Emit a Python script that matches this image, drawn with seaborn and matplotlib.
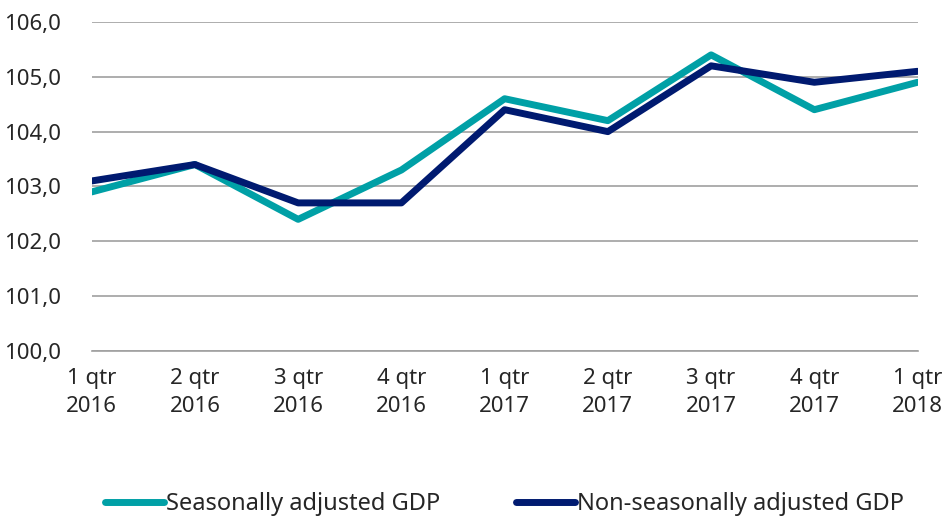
import pandas as pd
import numpy as np
import seaborn as sns
import matplotlib.pyplot as plt
from matplotlib.ticker import FuncFormatter

quarters = ['1 qtr\n2016', '2 qtr\n2016', '3 qtr\n2016', '4 qtr\n2016',
            '1 qtr\n2017', '2 qtr\n2017', '3 qtr\n2017', '4 qtr\n2017',
            '1 qtr\n2018']
seas_adj = [102.9, 103.4, 102.4, 103.3, 104.6, 104.2, 105.4, 104.4, 104.9]
non_seas_adj = [103.1, 103.4, 102.7, 102.7, 104.4, 104.0, 105.2, 104.9, 105.1]
series_names = ['Seasonally adjusted GDP', 'Non-seasonally adjusted GDP']

df = pd.DataFrame({'Quarter': list(range(len(quarters))) * 2,
                   'GDP': seas_adj + non_seas_adj,
                   'Series': [series_names[0]] * len(quarters) + [series_names[1]] * len(quarters)})

sns.set_style("white")
plt.rcParams['font.family'] = ['Noto Sans', 'DejaVu Sans']

palette = ['#00A0A6', '#001A70']
fig, ax = plt.subplots(figsize=(9.45, 5.23), dpi=100)
sns.lineplot(data=df, x='Quarter', y='GDP', hue='Series', palette=palette,
             linewidth=5, ax=ax, sort=False)
ax.set_xlim(0, len(quarters) - 1)
ax.set_ylim(100, 106)
ax.set_yticks(np.arange(100, 106.5, 1))
ax.yaxis.set_major_formatter(FuncFormatter(lambda v, p: f'{v:.1f}'.replace('.', ',')))
ax.set_xticks(range(len(quarters)))
ax.set_xticklabels(quarters, linespacing=1.45)
ax.grid(axis='y', color='#a0a0a0', linewidth=1.2)
ax.set_axisbelow(True)
for s in ['top', 'right', 'left']:
    ax.spines[s].set_visible(False)
ax.spines['bottom'].set_color('#a0a0a0')
ax.spines['bottom'].set_linewidth(1.2)
ax.tick_params(axis='x', length=7, width=1.2, color='#a0a0a0', labelsize=16, pad=5)
ax.tick_params(axis='y', length=0, labelsize=16, pad=22)
ax.set_xlabel('')
ax.set_ylabel('')
ax.legend(loc='upper center', bbox_to_anchor=(0.5, -0.365), ncol=2, frameon=False,
          fontsize=17, handlelength=2.5, handletextpad=0.1, columnspacing=3.2)
fig.subplots_adjust(left=0.097, right=0.971, top=0.958, bottom=0.329)
fig.savefig('out.png', dpi=100)
